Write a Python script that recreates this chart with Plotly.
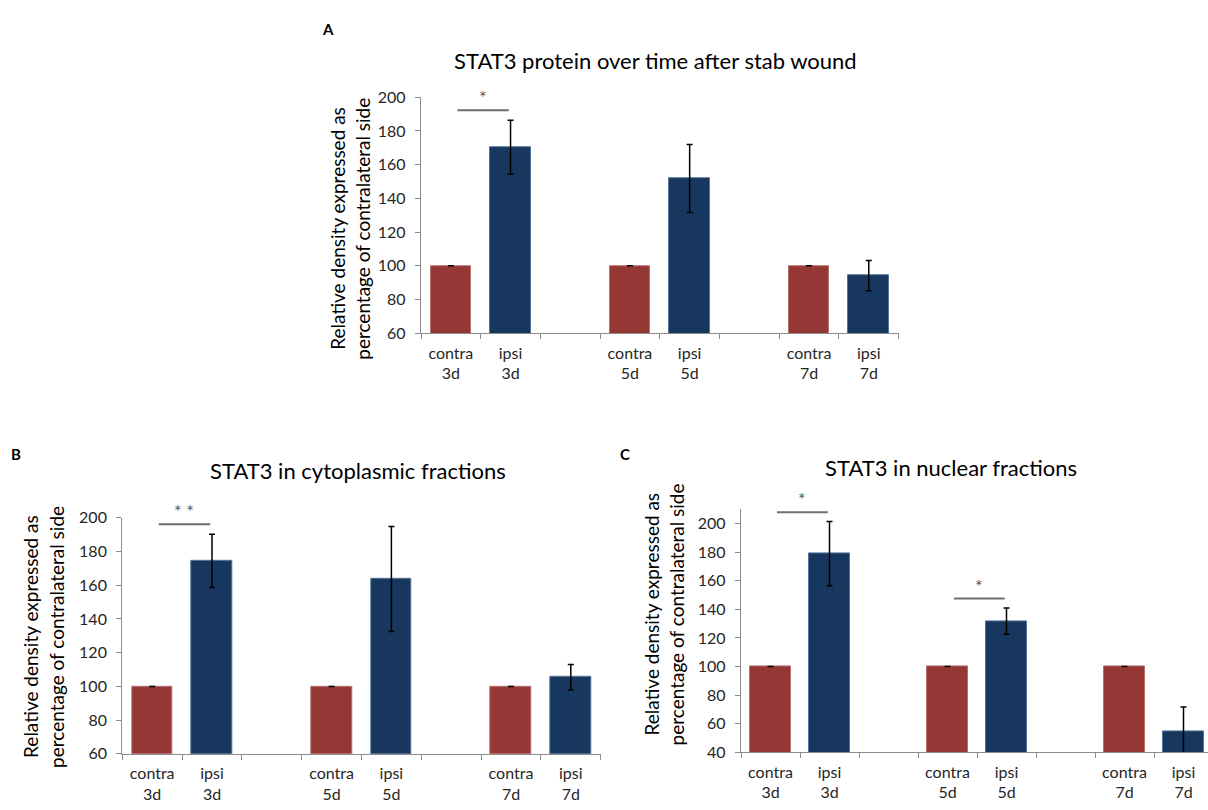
import plotly.graph_objects as go

W, H = 1208, 810

# ---------------- data ----------------
groups = ["contra", "ipsi"]
days = ["3d", "5d", "7d"]
slot_pos = [0, 1, 3, 4, 6, 7]          # category slots (2 and 5 are empty gaps)

contra_vals = [100, 100, 100]
contra_err = [0, 0, 0]

ipsi_A = [170.3, 151.8, 94.2]
err_A = [16.0, 20.2, 9.0]

ipsi_B = [174.4, 163.7, 105.4]
err_B = [15.8, 31.2, 7.6]

ipsi_C = [179.0, 131.8, 54.6]
err_C = [22.5, 9.2, 17.0]

titles = ["STAT3 protein over time after stab wound",
          "STAT3 in cytoplasmic fractions",
          "STAT3 in nuclear fractions"]
panel_letters = ["A", "B", "C"]
ytitle_lines = ["Relative density expressed as",
                "percentage of contralateral side"]

sig_panels = ["A", "B", "C", "C"]
sig_days = [0, 0, 0, 1]
sig_y = [192.3, 196.2, 208.0, 147.6]
sig_text = ["*", "* *", "*", "*"]

RED = "#953735"
BLUE = "#17375E"
RED_EDGE = "#B5706E"
BLUE_EDGE = "#56749A"
AXIS = "#8C8C8C"
TXT = "#262626"
FONT = "Lato"


def px_x(p):
    return p / W


def px_y(p):
    return 1 - p / H


panels = {
    "A": dict(x0=421, x1=898.6, yt=89.3, yb=331, yr=[60, 200], xr=[-0.5, 7.5],
              ipsi=ipsi_A, err=err_A, title=(655, 52), letter=(328, 19),
              yt1=338, yt2=363, ytc=224),
    "B": dict(x0=122.3, x1=600.7, yt=520, yb=761.7, yr=[60, 200], xr=[-0.5, 7.5],
              ipsi=ipsi_B, err=err_B, title=(358, 472), letter=(16, 455),
              yt1=31, yt2=57, ytc=642),
    "C": dict(x0=741, x1=1208, yt=511.4, yb=760, yr=[40, 210], xr=[-0.5, -0.5 + 467 / 59.0],
              ipsi=ipsi_C, err=err_C, title=(951, 469), letter=(625, 455),
              yt1=651, yt2=676, ytc=619),
}

fig = go.Figure()
annotations = []
shapes = []

tick_text = []
for d in days:
    for g in groups:
        tick_text.append(f"{g}<br>{d}")

for i, key in enumerate(["A", "B", "C"]):
    p = panels[key]
    xa = "x" if i == 0 else f"x{i + 1}"
    ya = "y" if i == 0 else f"y{i + 1}"
    vals, errs, colors, edges = [], [], [], []
    for k in range(3):
        vals += [contra_vals[k], p["ipsi"][k]]
        errs += [contra_err[k], p["err"][k]]
        colors += [RED, BLUE]
        edges += [RED_EDGE, BLUE_EDGE]
    fig.add_trace(go.Bar(
        x=slot_pos, y=vals, width=0.68,
        marker=dict(color=colors, line=dict(color=edges, width=1)),
        error_y=dict(type="data", array=errs, visible=True, color="black",
                     thickness=1.5, width=3),
        xaxis=xa, yaxis=ya, showlegend=False, hoverinfo="skip",
    ))
    axis_suffix = "" if i == 0 else str(i + 1)
    fig.layout["xaxis" + axis_suffix] = dict(
        domain=[px_x(p["x0"]), px_x(p["x1"])], range=p["xr"], anchor=ya,
        tickmode="array", tickvals=slot_pos, ticktext=tick_text,
        ticks="", showline=True, linecolor=AXIS, linewidth=1.3,
        showgrid=False, zeroline=False,
        tickfont=dict(family=FONT, size=16, color=TXT),
        ticklabelstandoff=5,
        minor=dict(tickmode="array", tickvals=[j - 0.5 for j in range(9)],
                   ticks="outside", ticklen=5, tickcolor=AXIS, tickwidth=1.3,
                   showgrid=False),
        fixedrange=True,
    )
    fig.layout["yaxis" + axis_suffix] = dict(
        domain=[px_y(p["yb"]), px_y(p["yt"])], range=p["yr"], anchor=xa,
        dtick=20, tick0=0, ticks="outside", ticklen=5, tickcolor=AXIS, tickwidth=1.3,
        showline=True, linecolor=AXIS, linewidth=1.3, showgrid=False, zeroline=False,
        tickfont=dict(family=FONT, size=16, color=TXT), ticklabelstandoff=6,
        fixedrange=True,
    )
    annotations.append(dict(text=titles[i], x=px_x(p["title"][0]), y=px_y(p["title"][1]),
                            xref="paper", yref="paper", showarrow=False,
                            xanchor="center", yanchor="middle",
                            font=dict(family=FONT, size=22, color="black")))
    annotations.append(dict(text="<b>" + panel_letters[i] + "</b>",
                            x=px_x(p["letter"][0]), y=px_y(p["letter"][1]),
                            xref="paper", yref="paper", showarrow=False,
                            xanchor="center", yanchor="middle",
                            font=dict(family=FONT, size=15, color="black")))
    for line, xp in zip(ytitle_lines, [p["yt1"], p["yt2"]]):
        annotations.append(dict(text=line, x=px_x(xp), y=px_y(p["ytc"]),
                                xref="paper", yref="paper", showarrow=False,
                                textangle=-90, xanchor="center", yanchor="middle",
                                font=dict(family=FONT, size=19, color="black")))

for pan, d, yv, txt in zip(sig_panels, sig_days, sig_y, sig_text):
    i = ["A", "B", "C"].index(pan)
    xa = "x" if i == 0 else f"x{i + 1}"
    ya = "y" if i == 0 else f"y{i + 1}"
    c_pos = slot_pos[2 * d]
    i_pos = slot_pos[2 * d + 1]
    shapes.append(dict(type="line", xref=xa, yref=ya,
                       x0=c_pos + 0.11, x1=i_pos - 0.03, y0=yv, y1=yv,
                       line=dict(color="#6E6E6E", width=2)))
    annotations.append(dict(text=txt, xref=xa, yref=ya,
                            x=(c_pos + i_pos) / 2 + 0.04, y=yv,
                            yanchor="bottom", yshift=0, showarrow=False,
                            font=dict(family=FONT, size=18, color="#555555")))

fig.update_layout(
    width=W, height=H, margin=dict(l=0, r=0, t=0, b=0),
    paper_bgcolor="white", plot_bgcolor="white",
    annotations=annotations, shapes=shapes,
    bargap=0, showlegend=False,
)

fig.write_html("out.html", config={"displayModeBar": False},
               post_script="document.body.style.margin='0';document.body.style.overflow='hidden';")
